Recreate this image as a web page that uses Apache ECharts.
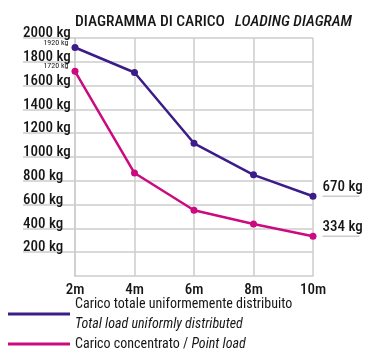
<!DOCTYPE html>
<html>
<head>
<meta charset="utf-8">
<script src="https://cdn.jsdelivr.net/npm/echarts@6/dist/echarts.min.js"></script>
<style>
  html, body { margin: 0; padding: 0; background: #fff; }
  #chart { width: 368px; height: 360px; }
</style>
</head>
<body>
<div id="chart"></div>
<script>
// Span lengths along the x axis
const spans = ['2m', '4m', '6m', '8m', '10m'];
// Uniformly distributed total load (kg)
const uniformLoad = [1920, 1710, 1115, 850, 670];
// Concentrated point load (kg)
const pointLoad = [1720, 865, 552, 437, 334];
// Labelled y ticks (kg)
const yTicks = [200, 400, 600, 800, 1000, 1200, 1400, 1600, 1800, 2000];

const FONT = "'Roboto Condensed', 'Open Sans', sans-serif";
const BLUE = '#3b1c88';
const PINK = '#cc0a80';
const GRID = '#cccccc';
const INK = '#161616';

// First point gets a small value tag, last point a large underlined one
function withLabels(values, firstOffset) {
  const last = values.length - 1;
  return values.map((v, i) => {
    if (i === 0) {
      return {
        value: v,
        label: {
          show: true, position: 'left', distance: 3, offset: firstOffset,
          formatter: p => p.value + ' kg', fontFamily: FONT, fontSize: 8, color: INK
        }
      };
    }
    if (i === last) {
      return {
        value: v,
        label: {
          show: true, position: 'right', distance: 6, offset: [0, -8],
          formatter: p => '{t|' + p.value + ' kg}\n{u|}',
          rich: {
            t: { fontFamily: FONT, fontSize: 15, fontWeight: 500, color: INK, lineHeight: 16 },
            u: { width: 37, height: 1.5, backgroundColor: GRID, lineHeight: 2 }
          }
        }
      };
    }
    return v;
  });
}

const chart = echarts.init(document.getElementById('chart'), null, { renderer: 'canvas' });
chart.setOption({
  animation: false,
  backgroundColor: '#fff',
  title: {
    text: '{a|DIAGRAMMA DI CARICO}  {b|LOADING DIAGRAM}',
    left: 75, top: 13, padding: 0,
    textStyle: {
      fontWeight: 'normal',
      rich: {
        a: { fontFamily: FONT, fontSize: 15.5, fontWeight: 500, color: INK },
        b: { fontFamily: FONT, fontSize: 15.5, fontWeight: 500, fontStyle: 'italic', color: INK }
      }
    }
  },
  grid: { left: 75, right: 55, top: 38, bottom: 84 },
  xAxis: {
    type: 'category',
    data: spans,
    boundaryGap: false,
    axisLine: { lineStyle: { color: GRID, width: 1.5 } },
    axisTick: { show: false },
    splitLine: { show: true, lineStyle: { color: GRID, width: 1.5 } },
    axisLabel: { fontFamily: FONT, fontSize: 15, fontWeight: 500, color: INK, margin: 7 }
  },
  yAxis: {
    type: 'value',
    min: 0, max: 2000, interval: 200,
    axisLine: { show: true, lineStyle: { color: GRID, width: 1.5 } },
    axisTick: { show: true, length: 52, customValues: yTicks, lineStyle: { color: GRID, width: 1.5 } },
    splitLine: { show: true, lineStyle: { color: GRID, width: 1.5 } },
    axisLabel: {
      customValues: yTicks,
      formatter: v => v + ' kg',
      align: 'left', margin: 52, verticalAlign: 'bottom',
      padding: [0, 0, -3, 0],
      fontFamily: FONT, fontSize: 15, fontWeight: 500, color: INK
    }
  },
  legend: {
    orient: 'vertical',
    left: 8, top: 294,
    padding: 0, itemGap: 0,
    itemWidth: 62, itemHeight: 3,
    icon: 'rect',
    textStyle: {
      fontFamily: FONT, fontSize: 14, color: INK, lineHeight: 20,
      rich: {
        n: { fontFamily: FONT, fontSize: 14, color: INK, lineHeight: 20 },
        i: { fontFamily: FONT, fontSize: 14, fontStyle: 'italic', color: INK, lineHeight: 20 }
      }
    },
    formatter: name => name === 'uniform'
      ? '{n|Carico totale uniformemente distribuito}\n{i|Total load uniformly distributed}'
      : '{n|Carico concentrato / }{i|Point load}'
  },
  series: [
    {
      name: 'uniform',
      type: 'line',
      data: withLabels(uniformLoad, [0, -5]),
      symbol: 'circle', symbolSize: 7,
      itemStyle: { color: BLUE },
      lineStyle: { color: BLUE, width: 2.5 }
    },
    {
      name: 'point',
      type: 'line',
      data: withLabels(pointLoad, [0, -5]),
      symbol: 'circle', symbolSize: 7,
      itemStyle: { color: PINK },
      lineStyle: { color: PINK, width: 2.5 }
    }
  ]
});
</script>
</body>
</html>
